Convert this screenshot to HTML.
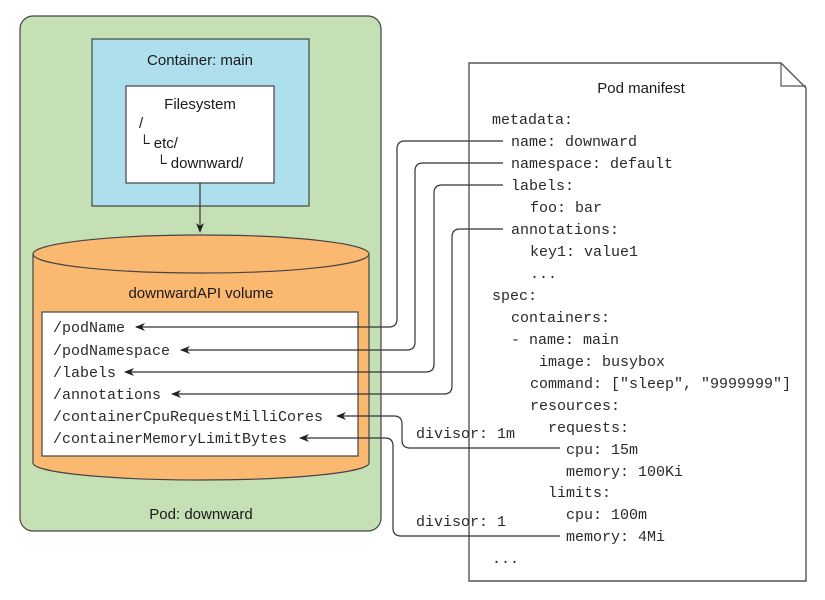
<!DOCTYPE html>
<html><head><meta charset="utf-8"><style>
html,body{margin:0;padding:0;background:#fff;}
svg{display:block;}
.s{font-family:"Liberation Sans",sans-serif;font-size:15px;fill:#1a1a1a;}
.m{font-family:"Liberation Mono",monospace;font-size:15px;fill:#2a2a2a;}
.l{fill:none;stroke:#333;stroke-width:1.2;}
</style></head><body>
<svg width="825" height="600" viewBox="0 0 825 600" xmlns="http://www.w3.org/2000/svg">
<defs><marker id="a" markerWidth="10" markerHeight="8" refX="9" refY="4" orient="auto" markerUnits="userSpaceOnUse"><path d="M0,0 L10,4 L0,8 L3,4 z" fill="#222"/></marker></defs>
<rect x="20" y="16" width="361" height="515" rx="13" fill="#c5e0b4" stroke="#444" stroke-width="1.2"/>
<rect x="92" y="39" width="217" height="167" fill="#addfec" stroke="#444" stroke-width="1.2"/>
<text class="s" x="200" y="65" text-anchor="middle">Container: main</text>
<rect x="126" y="86" width="148" height="97" fill="#fff" stroke="#444" stroke-width="1.2"/>
<text class="s" x="200" y="109" text-anchor="middle">Filesystem</text>
<text class="s" x="139" y="128">/</text>
<text class="s" x="139" y="148">└ etc/</text>
<text class="s" x="156" y="168">└ downward/</text>
<line class="l" x1="200" y1="183" x2="200" y2="232" marker-end="url(#a)"/>
<path d="M33,254 L33,463 A168,17 0 0 0 369,463 L369,254" fill="#fbb870" stroke="#444" stroke-width="1.2"/>
<ellipse cx="201" cy="254" rx="168" ry="19" fill="#fbb870" stroke="#444" stroke-width="1.2"/>
<text class="s" x="201" y="298" text-anchor="middle">downwardAPI volume</text>
<rect x="42" y="312" width="316" height="144" fill="#fff" stroke="#444" stroke-width="1.2"/>
<text class="m" x="53" y="332">/podName</text>
<text class="m" x="53" y="355">/podNamespace</text>
<text class="m" x="53" y="377">/labels</text>
<text class="m" x="53" y="399">/annotations</text>
<text class="m" x="53" y="421">/containerCpuRequestMilliCores</text>
<text class="m" x="53" y="443">/containerMemoryLimitBytes</text>
<text class="s" x="201" y="519" text-anchor="middle">Pod: downward</text>
<path d="M469,63 L781,63 L806,88 L806,581 L469,581 Z" fill="#fff" stroke="#555" stroke-width="1.4"/>
<path d="M781,63 L781,86 L806,86" fill="none" stroke="#555" stroke-width="1.2"/>
<text class="s" x="641" y="93" text-anchor="middle">Pod manifest</text>
<g class="m">
<text x="492" y="124">metadata:</text>
<text x="511" y="146">name: downward</text>
<text x="511" y="168">namespace: default</text>
<text x="511" y="190">labels:</text>
<text x="530" y="212">foo: bar</text>
<text x="511" y="234">annotations:</text>
<text x="530" y="256">key1: value1</text>
<text x="530" y="278">...</text>
<text x="492" y="300">spec:</text>
<text x="511" y="322">containers:</text>
<text x="511" y="344">- name: main</text>
<text x="539" y="366">image: busybox</text>
<text x="530" y="388">command: ["sleep", "9999999"]</text>
<text x="530" y="410">resources:</text>
<text x="548" y="432">requests:</text>
<text x="566" y="454">cpu: 15m</text>
<text x="566" y="476">memory: 100Ki</text>
<text x="548" y="497">limits:</text>
<text x="566" y="519">cpu: 100m</text>
<text x="566" y="541">memory: 4Mi</text>
<text x="492" y="563">...</text>
</g>
<path class="l" d="M503,141 L405,141 Q397,141 397,149 L397,319 Q397,327 389,327 L136,327" marker-end="url(#a)"/>
<path class="l" d="M503,163 L423,163 Q415,163 415,171 L415,342 Q415,350 407,350 L181,350" marker-end="url(#a)"/>
<path class="l" d="M503,185 L442,185 Q434,185 434,193 L434,364 Q434,372 426,372 L125,372" marker-end="url(#a)"/>
<path class="l" d="M503,229 L460,229 Q452,229 452,237 L452,386 Q452,394 444,394 L172,394" marker-end="url(#a)"/>
<path class="l" d="M560,448 L410,448 Q402,448 402,440 L402,424 Q402,416 394,416 L337,416" marker-end="url(#a)"/>
<path class="l" d="M560,536 L401,536 Q393,536 393,528 L393,446 Q393,438 385,438 L300,438" marker-end="url(#a)"/>
<text class="m" x="416" y="438">divisor: 1m</text>
<text class="m" x="416" y="526">divisor: 1</text>
</svg>
</body></html>
